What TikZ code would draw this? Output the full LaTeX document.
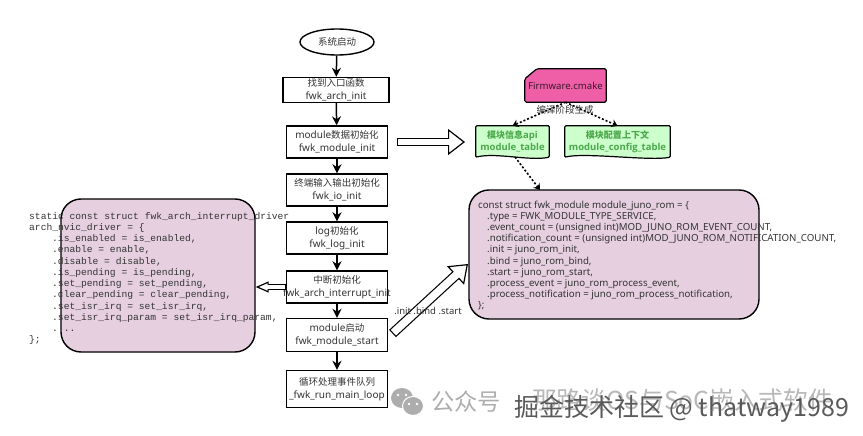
\documentclass[tikz,border=0pt]{standalone}
\usepackage{fontspec}
\setmainfont{Noto Sans}
\setmonofont{Liberation Mono}
\newfontfamily\cjk[Scale=0.95]{Noto Sans CJK SC}
\newfontfamily\tablefont{Open Sans}
\usetikzlibrary{arrows.meta,backgrounds,shapes.geometric}

\definecolor{cardpink}{HTML}{E6D0E0}
\definecolor{cmakepink}{HTML}{EE5FA7}
\definecolor{tablegreen}{HTML}{CCFFCC}
\definecolor{tabletext}{HTML}{4BA84B}
\definecolor{inktext}{HTML}{333333}

% from, to, outer width, inner width, head length, head width
\newcommand{\hollowarrow}[6]{
    \draw[line width=#3pt,-{Triangle[open,fill=white,length=#5pt,width=#6pt,line width=1.2pt]}] (#1) -- (#2);
    \draw[white,line width=#4pt,shorten <=1.2pt,shorten >=#5pt-4pt] (#1) -- (#2);
}

\tikzset{
    flowbox/.style={draw=black,line width=1.4pt,minimum width=101pt,inner sep=0pt,
        align=center,font=\fontsize{10}{12.5}\selectfont,text=inktext},
    flowline/.style={line width=1.5pt,-{Stealth[length=9pt,width=9pt]}},
    dotline/.style={line width=1.6pt,dash pattern=on 2pt off 2pt,-{Stealth[length=6pt,width=8pt]}},
    cardbox/.style={draw=black,line width=1.4pt,fill=cardpink,rounded corners=20pt},
    wavebox/.style={inner sep=0pt,align=center,text=tabletext,
        font=\tablefont\bfseries\fontsize{9.5}{12.5}\selectfont},
    wavefill/.style={draw=black,line width=1.2pt,fill=tablegreen,rounded corners=1pt},
    codetext/.style={inner sep=0pt,align=left,anchor=north west,text=inktext},
    markfont/.style={inner sep=0pt,anchor=west}
}

\begin{document}
\begin{tikzpicture}[x=1pt,y=-1pt]
    \useasboundingbox (0,0) rectangle (863,436);

    % Flow down the middle
    \node[draw=black,line width=1.4pt,ellipse,minimum width=74pt,minimum height=26pt,inner sep=0pt,
        font=\fontsize{10}{11}\selectfont,text=inktext] (boot) at (337,42) {\cjk 系统启动};
    \node[flowbox,minimum width=106pt,minimum height=25pt] (entry) at (336,90) {{\cjk 找到入口函数}\\fwk\_arch\_init};
    \node[flowbox,minimum height=32pt] (modinit) at (337,142) {module{\cjk 数据初始化}\\fwk\_module\_init};
    \node[flowbox,minimum height=32pt] (ioinit) at (337,190) {{\cjk 终端输入输出初始化}\\fwk\_io\_init};
    \node[flowbox,minimum height=32pt] (loginit) at (337,238) {log{\cjk 初始化}\\fwk\_log\_init};
    \node[flowbox,minimum height=32pt] (irqinit) at (337,287) {{\cjk 中断初始化}\\\makebox[90pt]{fwk\_arch\_interrupt\_init}};
    \node[flowbox,minimum height=33pt] (modstart) at (337,335) {module{\cjk 启动}\\fwk\_module\_start};
    \node[flowbox,minimum height=37pt] (mainloop) at (337,389) {{\cjk 循环处理事件队列}\\\_fwk\_run\_main\_loop};

    % lines between the boxes
    \draw[flowline] (boot) -- (entry);
    \draw[flowline] (entry) -- (modinit);
    \draw[flowline] (modinit) -- (ioinit);
    \draw[flowline] (ioinit) -- (loginit);
    \draw[flowline] (loginit) -- (irqinit);
    \draw[flowline] (irqinit) -- (modstart);
    \draw[flowline] (modstart) -- (mainloop);

    % Firmware and the two tables
    \node[inner sep=0pt,minimum width=81pt,minimum height=33pt,
        font=\fontsize{9.6}{11}\selectfont,text=black!75!cmakepink] (cmake) at (565.5,85.5) {Firmware.cmake};
    \node[wavebox,minimum width=73pt,minimum height=31pt] (modtable) at (512.5,141.5) {{\cjk\bfseries 模块信息}api\\module\_table};
    \node[wavebox,minimum width=105pt,minimum height=31pt] (cfgtable) at (617.5,141.5) {{\cjk\bfseries 模块配置上下文}\\module\_config\_table};
    \begin{scope}[on background layer]
        \draw[draw=black,line width=1.2pt,fill=cmakepink,rounded corners=1.5pt]
            (cmake.north west) ++(12,0) -- (cmake.north east) -- (cmake.south east)
            -- (cmake.south west) -- ([yshift=-10pt]cmake.north west) -- cycle;
        \foreach \tbl in {modtable,cfgtable}
            \draw[wavefill] (\tbl.north west) -- (\tbl.north east) -- (\tbl.south east)
                .. controls ([xshift=-20pt,yshift=-4pt]\tbl.south east) and ([xshift=20pt,yshift=5pt]\tbl.south west) .. (\tbl.south west) -- cycle;
    \end{scope}

    \draw[dotline] (cmake.south) -- (modtable.north);
    \draw[dotline] (cmake.south) -- (cfgtable.north);
    \node[inner sep=0pt,font=\fontsize{10}{11}\selectfont,text=inktext] (stage) at (565,110) {\cjk 编译阶段生成};

    % Cards with the code
    \node[cardbox,minimum width=194pt,minimum height=153pt] (irqcard) at (158,275.5) {};
    \node[cardbox,minimum width=290pt,minimum height=129pt] (romcard) at (614,254.5) {};

    \coordinate (modtail) at (397,142);
    \coordinate (modtip) at (465,142);
    \coordinate (romtail) at (392.5,333.5);
    \coordinate (romtip) at (468,264);
    \coordinate (romdot) at (540,190);
    \coordinate (tabledot) at (515,157);

    \hollowarrow{modtail}{modtip}{8}{5.6}{17}{26}
    \hollowarrow{irqinit.west}{irqinit.west -| irqcard.east}{6.5}{4.1}{13}{11}
    \hollowarrow{romtail}{romtip}{10}{7.6}{17}{25}
    \draw[dotline] (tabledot) -- (romdot);

    \node[codetext,font=\fontsize{9.63}{11.24}\selectfont\ttfamily] (irqcode) at (29,212) {%
        static const struct fwk\_arch\_interrupt\_driver\\
        arch\_nvic\_driver = \{\\
        \hspace*{23pt}.is\_enabled = is\_enabled,\\
        \hspace*{23pt}.enable = enable,\\
        \hspace*{23pt}.disable = disable,\\
        \hspace*{23pt}.is\_pending = is\_pending,\\
        \hspace*{23pt}.set\_pending = set\_pending,\\
        \hspace*{23pt}.clear\_pending = clear\_pending,\\
        \hspace*{23pt}.set\_isr\_irq = set\_isr\_irq,\\
        \hspace*{23pt}.set\_isr\_irq\_param = set\_isr\_irq\_param,\\
        \hspace*{23pt}. ..\\
        \};};
    \node[codetext,font=\fontsize{9.7}{11.2}\selectfont] (romcode) at (478,200.5) {%
        const struct fwk\_module module\_juno\_rom = \{\\
        \hspace*{9pt}.type = FWK\_MODULE\_TYPE\_SERVICE,\\
        \hspace*{9pt}.event\_count = (unsigned int)MOD\_JUNO\_ROM\_EVENT\_COUNT,\\
        \hspace*{9pt}.notification\_count = (unsigned int)MOD\_JUNO\_ROM\_NOTIFICATION\_COUNT,\\
        \hspace*{9pt}.init = juno\_rom\_init,\\
        \hspace*{9pt}.bind = juno\_rom\_bind,\\
        \hspace*{9pt}.start = juno\_rom\_start,\\
        \hspace*{9pt}.process\_event = juno\_rom\_process\_event,\\
        \hspace*{9pt}.process\_notification = juno\_rom\_process\_notification,\\
        \};};
    \node[inner sep=0pt,font=\fontsize{9.5}{10}\selectfont,text=inktext] (initlabel) at (428,311) {.init .bind .start};

    % Marks in the corner
    \fill[black!32] (402,398) ellipse (11pt and 10pt);
    \draw[white,fill=black!32,line width=1pt] (413,406) ellipse (10.5pt and 9.5pt);
    \foreach \eyex/\eyey in {398/395,406/395,409/404,417/404}
        \fill[white] (\eyex,\eyey) circle (1.3pt);
    \node[markfont,font=\fontsize{24.5}{26}\selectfont\cjk,text=black!32] (account) at (431,402) {公众号};
    \node[markfont,font=\fontsize{26}{26}\selectfont\cjk,text=black!28] (author) at (532,400) {那路谈OS与SoC嵌入式软件};
    \node[markfont,font=\fontsize{26.3}{26}\selectfont\cjk,text=black!65] (site) at (514,409) {掘金技术社区 @ thatway1989};
\end{tikzpicture}
\end{document}
